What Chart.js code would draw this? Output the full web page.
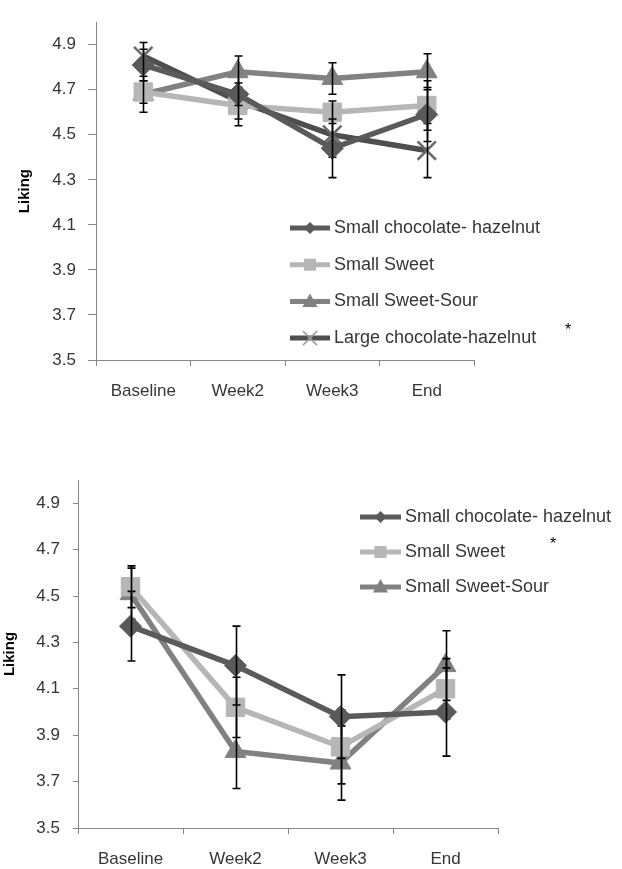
<!DOCTYPE html>
<html><head><meta charset="utf-8">
<script src="https://cdn.jsdelivr.net/npm/chart.js@4.4.1/dist/chart.umd.min.js"></script>
<style>
html,body{margin:0;padding:0;background:#fff;width:622px;height:869px;overflow:hidden;}
#w1{position:absolute;left:0;top:0;width:622px;height:420px;}
#w2{position:absolute;left:0;top:440px;width:622px;height:429px;}
</style></head><body>
<div id="w1"><canvas id="c1" width="622" height="420"></canvas></div>
<div id="w2"><canvas id="c2" width="622" height="429"></canvas></div>
<script>
// ---- data ----
const periods = ['Baseline', 'Week2', 'Week3', 'End'];
const yTicks = [3.5, 3.7, 3.9, 4.1, 4.3, 4.5, 4.7, 4.9];
const yMin = 3.5;
const yMax = 5.0;
const axisTitle = 'Liking';
const sigMark = '*';

const topNames = ['Small chocolate- hazelnut', 'Small Sweet', 'Small Sweet-Sour', 'Large chocolate-hazelnut'];
const topSmallChoc = [4.81, 4.68, 4.44, 4.59];
const topSmallChocErr = [0.07, 0.05, 0.13, 0.12];
const topSmallSweet = [4.69, 4.63, 4.60, 4.63];
const topSmallSweetErr = [0.05, 0.06, 0.05, 0.11];
const topSmallSour = [4.68, 4.78, 4.75, 4.78];
const topSmallSourErr = [0.08, 0.07, 0.07, 0.08];
const topLargeChoc = [4.85, 4.65, 4.50, 4.43];
const topLargeChocErr = [0.06, 0.11, 0.10, 0.12];

const botNames = ['Small chocolate- hazelnut', 'Small Sweet', 'Small Sweet-Sour'];
const botSmallChoc = [4.37, 4.20, 3.98, 4.00];
const botSmallChocErr = [0.15, 0.17, 0.18, 0.19];
const botSmallSweet = [4.54, 4.02, 3.85, 4.10];
const botSmallSweetErr = [0.09, 0.13, 0.16, 0.13];
const botSmallSour = [4.51, 3.83, 3.78, 4.20];
const botSmallSourErr = [0.11, 0.16, 0.16, 0.15];

// ---- styles ----
const FONT = '"Liberation Sans", Arial, sans-serif';
const C_DARK = '#5a5a5a', C_LIGHT = '#b6b6b6', C_MID = '#818181', C_DARKER = '#4e4e4e';
const AXIS = '#868686', TXT = '#363636';

function ds(label, data, errs, color, style, radius, opts) {
  return Object.assign({
    label, data, errors: errs,
    borderColor: color, backgroundColor: color,
    pointBackgroundColor: color, pointBorderColor: color,
    pointStyle: style, pointRadius: radius, pointBorderWidth: 1,
    borderWidth: 5.5, tension: 0, fill: false
  }, opts || {});
}

const errorBars = {
  id: 'errorBars',
  afterDatasetDraw(chart, args) {
    const d = chart.data.datasets[args.index];
    if (!d.errors) return;
    const ys = chart.scales.y, ctx = chart.ctx;
    ctx.save();
    ctx.strokeStyle = '#000';
    ctx.lineWidth = 1.6;
    args.meta.data.forEach((pt, i) => {
      const v = d.data[i], e = d.errors[i];
      const y1 = ys.getPixelForValue(v + e), y2 = ys.getPixelForValue(v - e);
      const x = Math.round(pt.x) + 0.5;
      ctx.beginPath();
      ctx.moveTo(x, y1); ctx.lineTo(x, y2);
      ctx.moveTo(x - 4, y1); ctx.lineTo(x + 4, y1);
      ctx.moveTo(x - 4, y2); ctx.lineTo(x + 4, y2);
      ctx.stroke();
    });
    ctx.restore();
  }
};

function marker(ctx, style, x, y, r, color) {
  ctx.save();
  ctx.fillStyle = color; ctx.strokeStyle = color;
  ctx.beginPath();
  if (style === 'rectRot') {
    ctx.moveTo(x - r, y); ctx.lineTo(x, y - r); ctx.lineTo(x + r, y); ctx.lineTo(x, y + r); ctx.closePath(); ctx.fill();
  } else if (style === 'rect') {
    ctx.rect(x - r, y - r, 2 * r, 2 * r); ctx.fill();
  } else if (style === 'triangle') {
    ctx.moveTo(x, y - r); ctx.lineTo(x + r * 0.95, y + r * 0.7); ctx.lineTo(x - r * 0.95, y + r * 0.7); ctx.closePath(); ctx.fill();
  } else if (style === 'crossRot') {
    ctx.lineWidth = 1.5;
    ctx.moveTo(x - r, y - r); ctx.lineTo(x + r, y + r);
    ctx.moveTo(x + r, y - r); ctx.lineTo(x - r, y + r); ctx.stroke();
  }
  ctx.restore();
}

const insideLegend = {
  id: 'insideLegend',
  afterDraw(chart, args, o) {
    const ctx = chart.ctx;
    chart.data.datasets.forEach((d, i) => {
      const y = o.y0 + i * o.dy;
      ctx.save();
      ctx.strokeStyle = d.borderColor;
      ctx.lineWidth = 5;
      ctx.beginPath(); ctx.moveTo(o.x, y); ctx.lineTo(o.x + o.len, y); ctx.stroke();
      ctx.restore();
      marker(ctx, d.pointStyle, o.x + o.len / 2, y, o.mr[i], d.legendMarkerColor || d.pointBackgroundColor);
      ctx.save();
      ctx.fillStyle = TXT;
      ctx.font = '18px ' + FONT;
      ctx.textBaseline = 'middle';
      ctx.fillText(d.label, o.x + o.len + 4, y);
      ctx.restore();
    });
    ctx.save();
    ctx.fillStyle = '#000';
    ctx.font = '16px ' + FONT;
    ctx.textAlign = 'center'; ctx.textBaseline = 'middle';
    ctx.fillText(sigMark, o.sx, o.sy);
    ctx.restore();
  }
};

function makeOptions(p) {
  return {
    responsive: false, animation: false, devicePixelRatio: 1,
    layout: { padding: { left: 0, right: p.right, top: p.top, bottom: 0 } },
    plugins: {
      legend: { display: false }, tooltip: { enabled: false },
      insideLegend: p.legend
    },
    scales: {
      x: {
        type: 'category', offset: true,
        grid: { offset: true, drawOnChartArea: false, drawTicks: true, tickLength: 6, color: AXIS },
        border: { color: AXIS, width: 1 },
        ticks: { font: { family: FONT, size: 17 }, color: TXT, padding: 15, maxRotation: 0, autoSkip: false },
        afterFit(s) { s.height = p.xh; }
      },
      y: {
        min: yMin, max: yMax,
        afterBuildTicks(s) { s.ticks = yTicks.map(v => ({ value: v })); },
        grid: { drawOnChartArea: false, drawTicks: true, tickLength: p.tl, color: AXIS },
        border: { color: AXIS, width: 1 },
        ticks: { font: { family: FONT, size: 17 }, color: TXT, padding: p.tp, callback: v => Number(v).toFixed(1) },
        title: { display: true, text: axisTitle, color: '#000', font: { family: FONT, size: 15, weight: 'bold' }, padding: { top: p.titlePad, bottom: 0 } },
        afterFit(s) { s.width = p.yw; }
      }
    }
  };
}

new Chart(document.getElementById('c1'), {
  type: 'line',
  data: {
    labels: periods,
    datasets: [
      ds(topNames[0], topSmallChoc, topSmallChocErr, C_DARK, 'rectRot', 11),
      ds(topNames[1], topSmallSweet, topSmallSweetErr, C_LIGHT, 'rect', 13),
      ds(topNames[2], topSmallSour, topSmallSourErr, C_MID, 'triangle', 12),
      ds(topNames[3], topLargeChoc, topLargeChocErr, C_DARKER, 'crossRot', 13, { pointBorderColor: '#6a6a6a', pointBorderWidth: 2.5, legendMarkerColor: '#9a9a9a' })
    ]
  },
  options: makeOptions({ right: 148, top: 13, xh: 60, yw: 96, tl: 8, tp: 12, titlePad: 16,
    legend: { x: 290, len: 40, y0: 228, dy: 36.7, mr: [6, 6, 8, 7], sx: 568, sy: 331 } }),
  plugins: [errorBars, insideLegend]
});

new Chart(document.getElementById('c2'), {
  type: 'line',
  data: {
    labels: periods,
    datasets: [
      ds(botNames[0], botSmallChoc, botSmallChocErr, C_DARK, 'rectRot', 11),
      ds(botNames[1], botSmallSweet, botSmallSweetErr, C_LIGHT, 'rect', 13),
      ds(botNames[2], botSmallSour, botSmallSourErr, C_MID, 'triangle', 12)
    ]
  },
  options: makeOptions({ right: 124, top: 40, xh: 41, yw: 78, tl: 5, tp: 13, titlePad: 1,
    legend: { x: 360, len: 41, y0: 77, dy: 35, mr: [6, 6, 8], sx: 553, sy: 105 } }),
  plugins: [errorBars, insideLegend]
});
</script>
</body></html>
